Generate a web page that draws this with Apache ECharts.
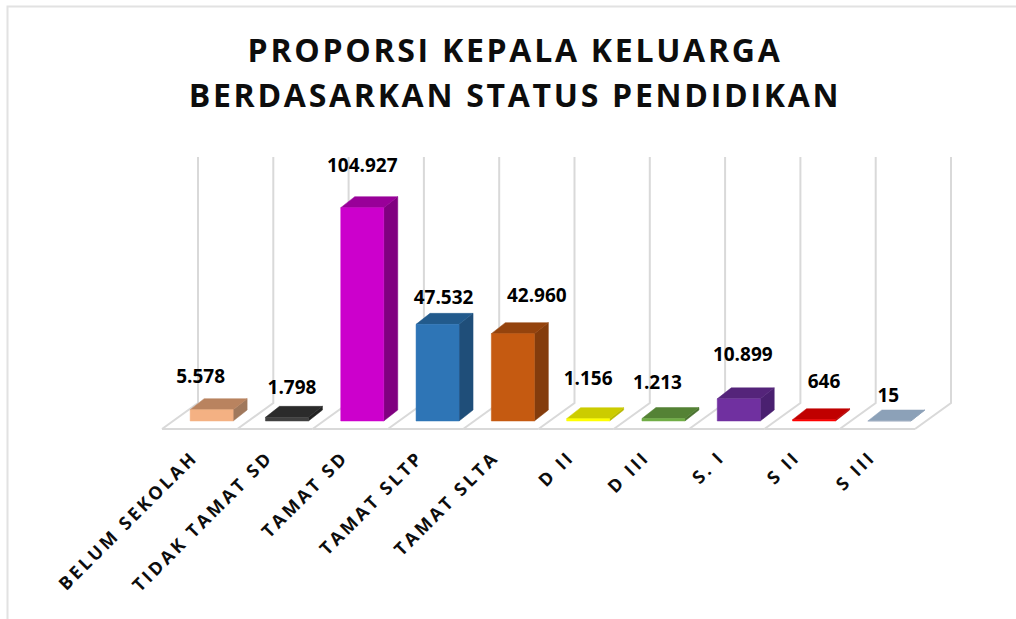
<!DOCTYPE html>
<html>
<head>
<meta charset="utf-8">
<style>
html,body{margin:0;padding:0;background:#fff}
#main{width:1016px;height:619px}
#main text[style*="32px"]{letter-spacing:2.72px}
#main text[style*="18px"]{letter-spacing:2.9px}
</style>
<script src="https://cdn.jsdelivr.net/npm/echarts@6/dist/echarts.min.js"></script>
</head>
<body>
<div id="main"></div>
<script>
const categories = ['BELUM SEKOLAH','TIDAK TAMAT SD','TAMAT SD','TAMAT SLTP','TAMAT SLTA','D II','D III','S. I','S II','S III'];
const values = [5578,1798,104927,47532,42960,1156,1213,10899,646,15];
const valueLabels = ['5.578','1.798','104.927','47.532','42.960','1.156','1.213','10.899','646','15'];
const frontColors = ['#F4B183','#404040','#CC00CC','#2E75B6','#C55A11','#FFFF00','#70AD47','#7030A0','#FF0000','#ADB9CA'];
const topColors   = ['#B9835F','#2B2B2B','#990099','#225A8C','#94430D','#CCCC00','#548235','#54247A','#C00000','#8CA1B8'];
const sideColors  = ['#A0785C','#222222','#800080','#1F4E79','#843C0C','#B8B800','#4A7230','#4A2070','#B00000','#8096AE'];
const labelShifts = [[-11,-34],[5,-30],[0,-43],[6,-27],[24,-39],[0,-41],[-6,-37],[4,-45],[10,-39],[-1,-26]];
const titleText = 'PROPORSI KEPALA KELUARGA\nBERDASARKAN STATUS PENDIDIKAN';

const depthX = 14, depthY = 11, barW = 43, barShift = 12;
const floorFront = 8, floorBack = 18, floorDX = 36;
const GRID = '#D9D9D9';

function floorItem(params, api) {
  const i = api.value(0);
  const base = api.coord([i, 0]);
  const top = api.coord([i, 120000]);
  const w = api.size([1, 0])[0];
  const xf = base[0] - w / 2, yf = base[1] + floorFront, yb = base[1] - floorBack, yt = top[1] - 20;
  const style = {stroke: GRID, lineWidth: 2, fill: 'none'};
  const pl = pts => ({type: 'polyline', shape: {points: pts}, style: style, silent: true});
  const kids = [pl([[xf, yf], [xf + floorDX, yb], [xf + floorDX, yt]]), pl([[xf, yf], [xf + w, yf]])];
  if (i === categories.length - 1) kids.push(pl([[xf + w, yf], [xf + w + floorDX, yb], [xf + w + floorDX, yt]]));
  return {type: 'group', children: kids};
}

function barItem(params, api) {
  const i = api.value(0), v = api.value(1);
  const b = api.coord([i, 0]), t = api.coord([i, v]);
  const cx = b[0] + barShift, l = cx - barW / 2, r = cx + barW / 2, y0 = b[1], y1 = t[1];
  const poly = (pts, c) => ({type: 'polygon', shape: {points: pts}, style: {fill: c, stroke: c, lineWidth: 0.5}});
  return {type: 'group', children: [
    poly([[r, y1], [r + depthX, y1 - depthY], [r + depthX, y0 - depthY], [r, y0]], sideColors[i]),
    poly([[l, y1], [l + depthX, y1 - depthY], [r + depthX, y1 - depthY], [r, y1]], topColors[i]),
    poly([[l, y1], [r, y1], [r, y0], [l, y0]], frontColors[i]),
    {type: 'text', x: cx + labelShifts[i][0], y: y1 + labelShifts[i][1],
     style: {text: valueLabels[i], align: 'center', verticalAlign: 'middle',
             font: 'bold 19px "Open Sans"', fill: '#000'}}
  ]};
}

const chart = echarts.init(document.getElementById('main'), null, {renderer: 'svg'});
chart.setOption({
  animation: false,
  backgroundColor: '#fff',
  title: {
    text: titleText, left: 510, top: 22, textAlign: 'center',
    textStyle: {fontFamily: 'Open Sans', fontWeight: 'bold', fontSize: 32, lineHeight: 45, color: '#0D0D0D'}
  },
  graphic: [{type: 'polyline', silent: true, z: 0,
    shape: {points: [[7.5, 619], [7.5, 6.5], [1016, 6.5]]},
    style: {stroke: '#E2E2E2', lineWidth: 2, fill: 'none'}}],
  grid: {left: 162, top: 177, width: 753, height: 244},
  xAxis: {type: 'category', data: categories,
    axisLine: {show: false}, axisTick: {show: false}, splitLine: {show: false},
    axisLabel: {interval: 0, rotate: 45, margin: 27, padding: [0, 8, 0, 0], color: '#0D0D0D',
      fontFamily: 'Open Sans', fontWeight: 'bold', fontSize: 18}},
  yAxis: {type: 'value', min: 0, max: 120000, show: false},
  series: [
    {type: 'custom', renderItem: floorItem, data: categories.map((c, i) => [i, 0]), z: 1, silent: true},
    {type: 'custom', renderItem: barItem, data: values.map((v, i) => [i, v]), z: 2, silent: true}
  ]
});
</script>
</body>
</html>
